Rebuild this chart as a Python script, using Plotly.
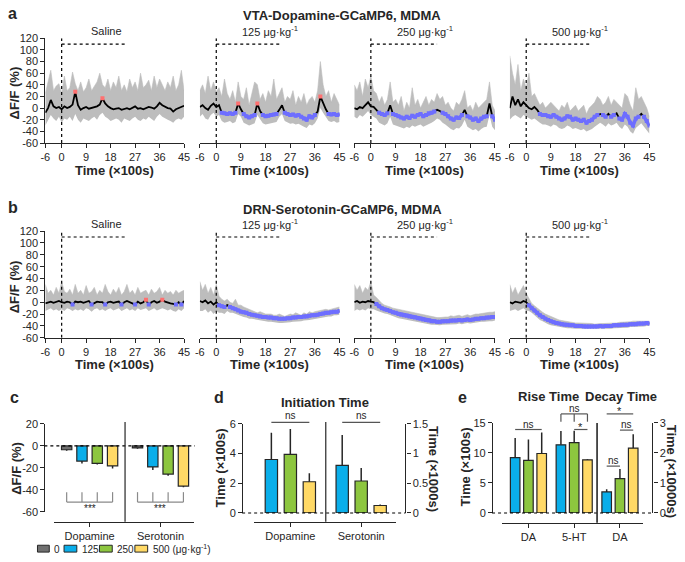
import plotly.graph_objects as go

W, H = 685, 562
FONT = "Arial, 'Liberation Sans', sans-serif"
INK = "#262626"
BAND = "#BDBDBD"
DOWN = "#6E6EFF"
UP = "#FF7070"
DOSE_COLORS = ["#707070", "#0AAEEA", "#8DC63F", "#FFD966"]

# ---- photometry time courses, x in units of 100 s ----
TIME = list(range(-6, 46))
TIME_TICKS = [-6, 0, 9, 18, 27, 36, 45]
Y_TICKS = list(range(-60, 121, 20))
PANEL_TITLES = ["Saline", "125 μg·kg<sup>-1</sup>", "250 μg·kg<sup>-1</sup>", "500 μg·kg<sup>-1</sup>"]
INJ_WINDOW = [0, 24]
INJ_LEVEL = 110

# k = not significant, b = below baseline, r = above baseline
da_sal_mean = [-8, 0, 14, 3, 0, 2, -2, 3, 0, 2, 6, 28, 5,
               -3, 0, 2, -1, 0, 1, 3, 6, 17, 8, 3, 0, -2,
               -1, 0, -3, -1, 0, -2, 0, 3, -1, 0, -2, 0, 2,
               1, -1, 3, 9, 5, 2, 0, -1, -6, -2, 0, 1, 4]
da_sal_hi = [25, 45, 65, 30, 38, 42, 25, 55, 30, 35, 62, 42, 30,
             45, 28, 35, 50, 30, 38, 45, 60, 40, 35, 50, 30, 45,
             35, 55, 30, 40, 28, 50, 35, 45, 30, 60, 35, 40, 48,
             30, 55, 35, 50, 40, 30, 45, 35, 55, 30, 40, 65, 30]
da_sal_lo = [-30, -20, -12, -18, -22, -15, -25, -18, -20, -15, -22, -10, -20,
             -25, -18, -20, -22, -18, -15, -20, -12, -8, -15, -18, -22, -20,
             -18, -20, -25, -18, -20, -22, -18, -15, -20, -22, -18, -20, -15,
             -18, -22, -15, -10, -15, -18, -20, -22, -25, -20, -18, -20, -15]
da_sal_sig = "kkkkkkkkkkkrk" "kkkkkkkkrkkkk" "kkkkkkkkkkkkk" "kkkkkkkkkkkkk"

da_125_mean = [2, 5, 0, -3, 4, 8, 2, 5, -8, -9, -10, -9, -10,
               -8, 8, -2, -10, -14, -16, -14, -12, 8, -5, -12, -14, -13,
               -12, -11, -10, -3, 5, -8, -10, -12, -11, -13, -12, -15, -18,
               -20, -14, -16, -12, -6, 20, 8, -2, -10, -11, -10, -12, -11]
da_125_hi = [30, 40, 25, 55, 30, 45, 28, 35, 20, 50, 25, 15, 30,
             10, 45, 20, 15, 35, 5, 25, 45, 40, 15, 25, 10, 30,
             20, 50, 15, 25, 35, 10, 20, 15, 30, 5, 20, 10, 25,
             5, 15, 20, 10, 30, 80, 40, 20, 30, 10, 25, 15, 5]
da_125_lo = [-15, -10, -18, -20, -12, -8, -15, -12, -22, -25, -24, -22, -26,
             -24, -10, -15, -25, -28, -30, -28, -26, -12, -18, -26, -28, -27,
             -26, -25, -24, -15, -10, -22, -25, -27, -26, -28, -27, -30, -32,
             -34, -28, -30, -26, -18, 0, -8, -15, -22, -24, -22, -25, -24]
da_125_sig = "kkkkkkkkbbbbb" "brkbbbbbrkbbb" "bbbkkbbbbbbbb" "bbbbkrkkbbbbb"

da_250_mean = [0, -2, 2, 0, 5, 10, 3, 2, -3, -8, -10, -12, -9,
               5, -10, -12, -14, -16, -18, -15, -17, -13, -15, -12, -10, -14,
               -12, -9, -8, -6, -3, -5, -8, -10, -14, -18, -20, -16, -17,
               -12, -3, -14, -16, -20, -18, -22, -18, -15, -14, 8, -14, -20]
da_250_hi = [40, 30, 45, 20, 50, 35, 55, 30, 25, 10, 20, 5, 15,
             45, 10, 15, 5, 20, -5, 10, 0, 35, 5, 15, 0, 10,
             20, 5, 15, 10, 25, 15, 20, 5, 10, 0, -5, 10, 5,
             15, 30, 0, 5, -5, 10, 0, 5, 10, 15, 45, 5, -5]
da_250_lo = [-15, -18, -12, -15, -10, -5, -12, -15, -18, -25, -28, -30, -26,
             -15, -28, -30, -32, -34, -35, -32, -34, -30, -32, -30, -28, -32,
             -30, -27, -25, -22, -18, -20, -25, -28, -32, -36, -38, -34, -35,
             -30, -20, -32, -35, -38, -36, -40, -36, -33, -32, -12, -32, -38]
da_250_sig = "kkkkkkkkkbbbb" "kbbbbbbbbbbbb" "bbbbkkbbbbbbb" "bkbbbbbbbbkbb"

da_500_mean = [0, 20, 5, 15, 3, 10, 5, 0, -2, 2, -3, -10, -12,
               -12, -14, -15, -12, -15, -18, -20, -18, -14, -15, -20, -18, -20,
               -22, -20, -25, -22, -20, -15, -12, -10, -12, -15, -10, -15, -12,
               -9, -18, -20, -10, -15, -25, -30, -18, -15, -10, -15, -22, -30]
da_500_hi = [90, 60, 40, 75, 30, 50, 35, 60, 20, 25, 15, 5, 10,
             0, 5, 10, 5, 0, -5, 5, 0, 10, -5, 0, 5, -5,
             0, 5, -10, 0, 5, 10, 20, 15, 5, 10, 20, 5, 15,
             10, 5, 0, 25, 20, 5, -5, 35, 15, 20, 10, 0, -15]
da_500_lo = [-20, -15, -12, -15, -18, -12, -15, -18, -20, -18, -22, -25, -28,
             -28, -30, -32, -28, -30, -34, -36, -34, -30, -32, -36, -34, -36,
             -38, -36, -40, -38, -36, -32, -28, -25, -28, -32, -26, -30, -28,
             -25, -32, -36, -28, -32, -40, -44, -34, -30, -26, -32, -38, -44]
da_500_sig = "kkkkkkkkkkkbb" "bbbbbbbbbbbbb" "bbbbbbbkbbkbb" "kbbbbbbbbkbbb"

ht_sal_mean = [-2, 0, 1, -1, 0, 2, 0, -1, 1, 0, -4, 1, 0,
               1, -1, 0, 2, -4, -1, 1, 0, 0, -4, 0, 1, -1,
               0, 1, -4, 0, 2, 0, -1, -4, 1, -2, 0, 4, -4,
               0, 2, -1, 1, 4, 1, -1, -2, -3, -4, 0, -4, 2]
ht_sal_hi = [30, 15, 20, 12, 25, 15, 35, 18, 15, 22, 12, 30, 15,
             20, 12, 28, 15, 18, 25, 12, 20, 15, 30, 18, 12, 22,
             15, 25, 12, 18, 30, 15, 20, 12, 25, 15, 18, 20, 12,
             22, 15, 18, 25, 12, 20, 15, 18, 12, 20, 15, 18, 20]
ht_sal_lo = [-15, -12, -10, -14, -12, -15, -12, -15, -10, -12, -15, -12, -14,
             -12, -15, -10, -12, -16, -12, -10, -14, -12, -15, -12, -10, -14,
             -12, -10, -15, -12, -10, -14, -12, -15, -10, -13, -12, -10, -15,
             -12, -10, -14, -12, -10, -12, -14, -12, -15, -16, -12, -15, -10]
ht_sal_sig = "kkkkkkkkkkbkk" "kkkkbkkkkbkkk" "kkbkkkkbkkkrb" "kkkkrkkkkbkbk"

ht_125_mean = [2, 0, 3, -2, 1, -4, 0, -5, -7, -8, -5, -8, -10,
               -12, -14, -16, -17, -18, -20, -21, -22, -23, -24, -25, -25, -26,
               -26, -27, -27, -28, -28, -28, -27, -27, -26, -26, -25, -25, -24,
               -24, -23, -22, -22, -21, -20, -19, -18, -18, -17, -16, -16, -15]
ht_125_hi = [35, 20, 30, 15, 25, 12, 30, 10, 5, 2, 5, 0, -2,
             5, -5, -5, -8, -10, -12, -14, -15, -18, -16, -18, -20, -20,
             -20, -22, -22, -20, -22, -24, -22, -20, -21, -18, -20, -22, -18,
             -20, -16, -18, -16, -15, -14, -12, -12, -13, -12, -10, -10, -8]
ht_125_lo = [-15, -15, -12, -18, -14, -20, -15, -18, -18, -20, -15, -18, -18,
             -20, -22, -24, -25, -26, -28, -28, -29, -30, -31, -32, -32, -33,
             -33, -34, -34, -35, -35, -35, -34, -34, -33, -33, -32, -32, -31,
             -31, -30, -29, -28, -28, -27, -26, -25, -24, -24, -22, -22, -21]
ht_125_sig = "kkkkkkkbbbkbb" "bbbbbbbbbbbbb" "bbbbbbbbbbbbb" "bbbbbbbbbbbbb"

ht_250_mean = [0, 2, -1, 1, 0, 2, 1, 0, -3, -7, -10, -12, -13,
               -15, -17, -18, -20, -21, -22, -23, -24, -25, -26, -27, -28, -29,
               -30, -31, -32, -32, -33, -33, -32, -32, -32, -31, -31, -31, -30,
               -31, -30, -29, -30, -29, -28, -28, -27, -27, -26, -26, -25, -25]
ht_250_hi = [30, 20, 28, 15, 25, 20, 35, 12, 8, 2, -2, -5, -6,
             -8, -10, -11, -13, -14, -15, -16, -17, -18, -19, -20, -21, -22,
             -23, -24, -25, -25, -26, -26, -25, -25, -25, -23, -24, -23, -22,
             -24, -22, -21, -23, -21, -20, -20, -19, -18, -18, -17, -17, -16]
ht_250_lo = [-15, -12, -14, -12, -14, -10, -12, -12, -14, -16, -18, -19, -20,
             -22, -24, -25, -27, -28, -29, -30, -31, -32, -33, -34, -35, -36,
             -37, -37, -38, -38, -39, -39, -38, -38, -38, -37, -37, -37, -36,
             -37, -36, -35, -36, -35, -34, -34, -33, -33, -32, -32, -32, -31]
ht_250_sig = "kkkkkkkkbbbbb" "bbbbbbbbbbbbb" "bbbbbbbbbbbbb" "bbbbbbbbbbbbb"

ht_500_mean = [0, -2, 1, 0, -1, 2, 0, -5, -10, -14, -18, -22, -25,
               -28, -30, -32, -34, -35, -36, -37, -38, -38, -39, -39, -40, -40,
               -40, -41, -41, -41, -41, -41, -41, -40, -41, -40, -40, -40, -39,
               -39, -39, -38, -38, -38, -37, -37, -37, -36, -36, -36, -35, -36]
ht_500_hi = [30, 15, 25, 12, 20, 28, 15, 5, -2, -6, -10, -14, -17,
             -20, -22, -25, -27, -29, -30, -31, -32, -33, -34, -34, -35, -35,
             -35, -36, -36, -36, -36, -37, -36, -36, -36, -36, -35, -35, -35,
             -35, -34, -34, -33, -33, -33, -32, -32, -32, -31, -31, -31, -32]
ht_500_lo = [-15, -14, -12, -15, -12, -10, -14, -15, -18, -22, -26, -30, -32,
             -35, -37, -39, -40, -41, -42, -43, -43, -44, -44, -45, -45, -45,
             -45, -46, -46, -46, -46, -46, -46, -45, -46, -45, -45, -45, -44,
             -44, -44, -43, -43, -43, -42, -42, -42, -41, -41, -41, -40, -40]
ht_500_sig = "kkkkkkkbbbbbb" "bbbbbbbbbbbbb" "bbbbbbbbbbbbb" "bbbbbbbbbbbbb"

# ---- c: mean dF/F after injection ----
c_groups = ["Dopamine", "Serotonin"]
c_labels = ["0", "125", "250", "500 (μg·kg<sup>-1</sup>)"]
c_mean_0 = [-3.5, -1.8]
c_mean_125 = [-13.8, -19.1]
c_mean_250 = [-15.9, -25.6]
c_mean_500 = [-18.2, -36.5]
c_err_0 = [0.8, 0.8]
c_err_125 = [2.1, 2.7]
c_err_250 = [1.1, 1.4]
c_err_500 = [2.4, 1.1]

# ---- d: initiation time (x100 s) ----
d_groups = ["Dopamine", "Serotonin"]
d_mean_125 = [3.6, 3.2]
d_mean_250 = [3.95, 2.15]
d_mean_500 = [2.1, 0.5]
d_err_125 = [1.8, 2.05]
d_err_250 = [1.7, 0.88]
d_err_500 = [0.58, 0.07]

# ---- e: rise time (x100 s) and decay time (x10000 s) ----
e_groups = ["DA", "5-HT", "DA"]
e_rise_125 = [9.2, 11.35]
e_rise_250 = [8.75, 11.7]
e_rise_500 = [9.9, 8.85]
e_rise_err_125 = [3.3, 2.3]
e_rise_err_250 = [3.5, 2.0]
e_rise_err_500 = [3.5, 0.15]
e_decay_125 = [0.7]
e_decay_250 = [1.14]
e_decay_500 = [2.16]
e_decay_err_125 = [0.09]
e_decay_err_250 = [0.32]
e_decay_err_500 = [0.46]


def X(p):
    return p / W


def Y(p):
    return 1 - p / H


def lin(p0, p1, v0, v1):
    return lambda v: p0 + (v - v0) * (p1 - p0) / (v1 - v0)


def labels(vals):
    # plain hyphen minus, as in the original figure
    return [f"{v:g}" for v in vals]


fig = go.Figure()
shapes, notes, layout = [], [], {}


def seg(x0, y0, x1, y1, color=INK, width=1.2, dash=None):
    shapes.append(dict(type="line", xref="paper", yref="paper",
                       x0=X(x0), x1=X(x1), y0=Y(y0), y1=Y(y1),
                       line=dict(color=color, width=width, dash=dash)))


def text(x, y, s, size=11, bold=False, angle=0, anchor="center"):
    notes.append(dict(text=f"<b>{s}</b>" if bold else s, x=X(x), y=Y(y),
                      xref="paper", yref="paper", showarrow=False,
                      xanchor=anchor, yanchor="middle", textangle=angle,
                      borderpad=0, font=dict(size=size, color=INK)))


AX = dict(showgrid=False, zeroline=False, showline=True, linecolor=INK, linewidth=1.2,
          ticks="outside", ticklen=4, tickwidth=1.2, tickcolor=INK,
          tickfont=dict(size=11, color=INK), fixedrange=True)

# ── a / b: time courses ───────────────────────────────────────────────────────
COLS = [(41, 182), (198, 340), (355, 498), (513, 655)]
ROWS = [
    dict(top=33, bot=140, label="a", title="VTA-Dopamine-GCaMP6, MDMA", head=10, sub=26, xt=168,
         data=[(da_sal_mean, da_sal_hi, da_sal_lo, da_sal_sig),
               (da_125_mean, da_125_hi, da_125_lo, da_125_sig),
               (da_250_mean, da_250_hi, da_250_lo, da_250_sig),
               (da_500_mean, da_500_hi, da_500_lo, da_500_sig)]),
    dict(top=230, bot=339, label="b", title="DRN-Serotonin-GCaMP6, MDMA", head=208, sub=223, xt=366,
         data=[(ht_sal_mean, ht_sal_hi, ht_sal_lo, ht_sal_sig),
               (ht_125_mean, ht_125_hi, ht_125_lo, ht_125_sig),
               (ht_250_mean, ht_250_hi, ht_250_lo, ht_250_sig),
               (ht_500_mean, ht_500_hi, ht_500_lo, ht_500_sig)]),
]

n = 0
for row in ROWS:
    text(8, row["head"] - 2, row["label"], size=16, bold=True)
    text(343, row["head"], row["title"], size=13, bold=True)
    text(10, (row["top"] + row["bot"]) / 2 + 2, "ΔF/F (%)", size=13, bold=True, angle=-90)
    for j, ((x0, x1), (mean, hi, lo, sig)) in enumerate(zip(COLS, row["data"])):
        n += 1
        xa, ya = f"x{n}", f"y{n}"
        fig.add_trace(go.Scatter(x=TIME, y=lo, xaxis=xa, yaxis=ya, mode="lines",
                                 line=dict(width=0, color=BAND), hoverinfo="skip"))
        fig.add_trace(go.Scatter(x=TIME, y=hi, xaxis=xa, yaxis=ya, mode="lines",
                                 line=dict(width=0.6, color=BAND), fill="tonexty",
                                 fillcolor=BAND, hoverinfo="skip"))
        fig.add_trace(go.Scatter(x=TIME, y=mean, xaxis=xa, yaxis=ya, mode="lines",
                                 line=dict(width=1.8, color="black"), hoverinfo="skip"))
        for code, col in (("b", DOWN), ("r", UP)):
            ys = [v if s == code else None for v, s in zip(mean, sig)]
            fig.add_trace(go.Scatter(x=TIME, y=ys, xaxis=xa, yaxis=ya, mode="lines+markers",
                                     line=dict(width=3.5, color=col),
                                     marker=dict(size=4, color=col, symbol="square"),
                                     connectgaps=False, hoverinfo="skip"))
        layout[f"xaxis{n}"] = dict(AX, domain=[X(x0), X(x1)], range=[-6, 45], anchor=ya,
                                   tickvals=TIME_TICKS, ticktext=labels(TIME_TICKS))
        layout[f"yaxis{n}"] = dict(AX, domain=[Y(row["bot"]), Y(row["top"])], range=[-60, 120],
                                   anchor=xa, tickvals=Y_TICKS, ticktext=labels(Y_TICKS),
                                   visible=(j == 0))
        shapes.append(dict(type="line", xref=xa, yref=ya, x0=0, x1=0, y0=-60, y1=120,
                           line=dict(color="black", width=1.2, dash="dot")))
        shapes.append(dict(type="line", xref=xa, yref=ya, x0=INJ_WINDOW[0], x1=INJ_WINDOW[1],
                           y0=INJ_LEVEL, y1=INJ_LEVEL,
                           line=dict(color="black", width=1.2, dash="dot")))
        cx = 103 if j == 0 else (x0 + x1) / 2
        text(cx, row["sub"], PANEL_TITLES[j], size=11)
        text((x0 + x1) / 2, row["xt"], "Time (×100s)", size=13, bold=True)


def add_bars(xa, ya, xs, vals, errs, color, k, nbar, slot, width, down=False):
    off = (k - (nbar - 1) / 2) * slot - width / 2
    zeros = [0] * len(vals)
    fig.add_trace(go.Bar(x=xs, y=vals, xaxis=xa, yaxis=ya, width=width, offset=off,
                         marker=dict(color=color, line=dict(color=INK, width=1.2)),
                         error_y=dict(type="data", symmetric=False,
                                      array=zeros if down else errs,
                                      arrayminus=errs if down else zeros,
                                      color=INK, thickness=1.5, width=0),
                         hoverinfo="skip"))


def centre(g, k, nbar, slot):
    return g + (k - (nbar - 1) / 2) * slot


# ── c ─────────────────────────────────────────────────────────────────────────
C_SLOT, C_W = 0.216, 0.146
C_TICKS = [-60, -40, -20, 0, 20]
cxp = lin(50, 192, -0.5, 1.472)
cyp = lin(517, 427, -60, 20)
for k, (m, e) in enumerate([(c_mean_0, c_err_0), (c_mean_125, c_err_125),
                            (c_mean_250, c_err_250), (c_mean_500, c_err_500)]):
    add_bars("x9", "y9", [0, 1], m, e, DOSE_COLORS[k], k, 4, C_SLOT, C_W, down=True)
layout["xaxis9"] = dict(AX, domain=[X(50), X(192)], range=[-0.5, 1.472], anchor="free",
                        position=Y(527), tickvals=[0, 1], ticktext=c_groups)
layout["yaxis9"] = dict(AX, domain=[Y(517), Y(427)], range=[-60, 20], anchor="free",
                        position=X(40), tickvals=C_TICKS, ticktext=labels(C_TICKS))
seg(40, cyp(0), 193, cyp(0), color="black", width=1.1, dash="dot")
seg(cxp(0.5), 425, cxp(0.5), 527)
for g in (0, 1):
    xs = [cxp(centre(g, k, 4, C_SLOT)) for k in range(4)]
    seg(xs[0], cyp(-51), xs[-1], cyp(-51), color="#8a8a8a")
    for xk in xs:
        seg(xk, cyp(-51), xk, cyp(-42), color="#8a8a8a")
    text(cxp(g), cyp(-56.5), "***", size=10)
text(10, 400, "c", size=16, bold=True)
text(12, 472, "ΔF/F (%)", size=13, bold=True, angle=-90)
LEG_BOX = [(33, 45), (60, 73), (96, 109), (132, 145)]
for k, (b0, b1) in enumerate(LEG_BOX):
    shapes.append(dict(type="rect", xref="paper", yref="paper", x0=X(b0), x1=X(b1),
                       y0=Y(558), y1=Y(551), fillcolor=DOSE_COLORS[k],
                       line=dict(color=INK, width=1)))
    text(b1 + 4, 555, c_labels[k], size=10, anchor="left")

# ── d ─────────────────────────────────────────────────────────────────────────
D_SLOT, D_W = 0.268, 0.174
dxp = lin(253, 397, -0.514, 1.486)
dyp = lin(518, 427, 0, 6)
for k, (m, e) in enumerate([(d_mean_125, d_err_125), (d_mean_250, d_err_250),
                            (d_mean_500, d_err_500)]):
    add_bars("x10", "y10", [0, 1], m, e, DOSE_COLORS[k + 1], k, 3, D_SLOT, D_W)
layout["xaxis10"] = dict(AX, domain=[X(253), X(397)], range=[-0.514, 1.486], anchor="free",
                         position=Y(527), tickvals=[0, 1], ticktext=d_groups)
layout["yaxis10"] = dict(AX, domain=[Y(518), Y(427)], range=[0, 6], anchor="free",
                         position=X(241), tickvals=[0, 2, 4, 6])
layout["yaxis11"] = dict(AX, range=[0, 1.5], overlaying="y10", side="right", anchor="free",
                         position=X(407), tickvals=[0, 0.5, 1, 1.5],
                         ticktext=["0", "0.5", "1", "1.5"])
fig.add_trace(go.Scatter(x=[None], y=[None], xaxis="x10", yaxis="y11", hoverinfo="skip"))
seg(241, dyp(0), 407, dyp(0), color="black", width=1.1, dash="dot")
seg(dxp(0.5), 425, dxp(0.5), 527)
for g in (0, 1):
    a, b = dxp(centre(g, 0, 3, D_SLOT)), dxp(centre(g, 2, 3, D_SLOT))
    seg(a, dyp(6.1), b, dyp(6.1), color="#555")
    text((a + b) / 2, dyp(6.55), "ns", size=10)
text(218, 400, "d", size=16, bold=True)
text(325, 405, "Initiation Time", size=13, bold=True)
text(219, 472, "Time (×100s)", size=13, bold=True, angle=-90)
text(435, 473, "Time (×1000s)", size=13, bold=True, angle=90)

# ── e ─────────────────────────────────────────────────────────────────────────
E_SLOT, E_W = 0.29, 0.209
exp_ = lin(505, 648, -0.58, 2.495)
eyp = lin(518, 426, 0, 15)
for k, (m, e) in enumerate([(e_rise_125, e_rise_err_125), (e_rise_250, e_rise_err_250),
                            (e_rise_500, e_rise_err_500)]):
    add_bars("x12", "y12", [0, 1], m, e, DOSE_COLORS[k + 1], k, 3, E_SLOT, E_W)
for k, (m, e) in enumerate([(e_decay_125, e_decay_err_125), (e_decay_250, e_decay_err_250),
                            (e_decay_500, e_decay_err_500)]):
    add_bars("x12", "y13", [2], m, e, DOSE_COLORS[k + 1], k, 3, E_SLOT, E_W)
layout["xaxis12"] = dict(AX, domain=[X(505), X(648)], range=[-0.58, 2.495], anchor="free",
                         position=Y(528), tickvals=[0, 1, 2], ticktext=e_groups)
layout["yaxis12"] = dict(AX, domain=[Y(518), Y(426)], range=[0, 15], anchor="free",
                         position=X(495), tickvals=[0, 5, 10, 15])
layout["yaxis13"] = dict(AX, range=[0, 3], overlaying="y12", side="right", anchor="free",
                         position=X(658), tickvals=[0, 1, 2, 3])
seg(495, eyp(0), 658, eyp(0), color="black", width=1.1, dash="dot")
seg(exp_(1.5), 426, exp_(1.5), 528, width=1.6)


def ec(g, k):
    return exp_(centre(g, k, 3, E_SLOT))


BR = "#555"
# DA rise
seg(ec(0, 0), eyp(13.9), ec(0, 2), eyp(13.9), color=BR)
text(ec(0, 1), eyp(14.8), "ns", size=10)
# 5-HT rise
seg(ec(1, 0), eyp(16.5), ec(1, 2), eyp(16.5), color=BR)
for k in range(3):
    seg(ec(1, k), eyp(16.5), ec(1, k), eyp(15.2), color=BR)
text(ec(1, 1), eyp(17.4), "ns", size=10)
seg(ec(1, 1), eyp(13.9), ec(1, 2), eyp(13.9), color=BR)
text((ec(1, 1) + ec(1, 2)) / 2, eyp(14.4), "*", size=11)
# DA decay
seg(ec(2, 0), eyp(16.5), ec(2, 2), eyp(16.5), color=BR)
text(ec(2, 1), eyp(17.0), "*", size=11)
seg(ec(2, 1), eyp(13.8), ec(2, 2), eyp(13.8), color=BR)
text((ec(2, 1) + ec(2, 2)) / 2, eyp(14.7), "ns", size=10)
seg(ec(2, 0), eyp(7.8), ec(2, 1), eyp(7.8), color=BR)
text((ec(2, 0) + ec(2, 1)) / 2, eyp(8.7), "ns", size=10)
text(465, 400, "e", size=16, bold=True)
text(552, 399, "Rise Time", size=13, bold=True)
text(626, 399, "Decay Time", size=13, bold=True)
text(468, 471, "Time (×100s)", size=13, bold=True, angle=-90)
text(677, 475, "Time (×10000s)", size=13, bold=True, angle=90)

fig.update_layout(
    width=W, height=H, margin=dict(l=0, r=0, t=0, b=0),
    paper_bgcolor="white", plot_bgcolor="rgba(0,0,0,0)",
    font=dict(family=FONT, color=INK), showlegend=False, barmode="overlay",
    shapes=shapes, annotations=notes, **layout,
)
# the page's default body margin would push the fixed-size figure off the window
fig.write_html("out.html", config={"displayModeBar": False},
               post_script="document.body.style.margin='0';")
